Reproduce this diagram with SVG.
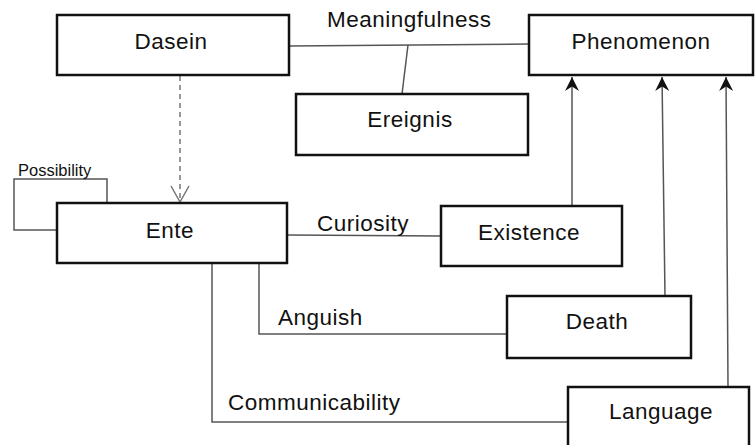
<svg xmlns="http://www.w3.org/2000/svg" width="755" height="445" viewBox="0 0 755 445">
<style>
.box{fill:#fff;stroke:#111;stroke-width:2.5}
.lbl{font-family:"Liberation Sans",Arial,sans-serif;font-size:22.5px;letter-spacing:0.5px;fill:#111;text-anchor:middle}
.elbl{font-family:"Liberation Sans",Arial,sans-serif;font-size:22.5px;letter-spacing:0.5px;fill:#111}
.small{font-family:"Liberation Sans",Arial,sans-serif;font-size:16.5px;fill:#111}
.con{fill:none;stroke:#555;stroke-width:1.5}
.dash{fill:none;stroke:#777;stroke-width:1.5;stroke-dasharray:5 4}
</style>
<defs>
<marker id="barb" markerUnits="userSpaceOnUse" viewBox="0 0 16 16" refX="15" refY="8" markerWidth="16" markerHeight="16" orient="auto">
<path d="M15,8 L1,1 L5.5,8 L1,15 Z" fill="#111"/>
</marker>
<marker id="openv" markerUnits="userSpaceOnUse" viewBox="0 0 20 20" refX="18" refY="10" markerWidth="20" markerHeight="20" orient="auto">
<path d="M2,1 L18,10 L2,19" fill="none" stroke="#777" stroke-width="1.5"/>
</marker>
</defs>
<g id="connectors">
<path class="con" d="M289,46 L529,44"/>
<path class="con" d="M408,45 L402,94"/>
<path class="dash" d="M180,76 L180,202" marker-end="url(#openv)"/>
<path class="con" d="M57,230 L14,230 L14,179 L107,179 L107,203"/>
<path class="con" d="M287,235 L441,236"/>
<path class="con" d="M259,263 L259,334 L507,334"/>
<path class="con" d="M212,263 L212,422 L568,422"/>
<path class="con" d="M572,206 L572,77" marker-end="url(#barb)"/>
<path class="con" d="M665,296 L662,77" marker-end="url(#barb)"/>
<path class="con" d="M728,387 L726,77" marker-end="url(#barb)"/>
<text class="elbl" x="327" y="27">Meaningfulness</text>
<text class="small" x="18" y="176">Possibility</text>
<text class="elbl" x="317" y="231">Curiosity</text>
<text class="elbl" x="278" y="325">Anguish</text>
<text class="elbl" x="228" y="410">Communicability</text>
</g>
<g id="dasein"><rect class="box" x="57" y="15" width="232" height="60"/><text class="lbl" x="171" y="49">Dasein</text></g>
<g id="phenomenon"><rect class="box" x="529" y="15" width="224" height="60"/><text class="lbl" x="641" y="49">Phenomenon</text></g>
<g id="ereignis"><rect class="box" x="296" y="94" width="232" height="61"/><text class="lbl" x="410" y="127">Ereignis</text></g>
<g id="ente"><rect class="box" x="57" y="203" width="230" height="60"/><text class="lbl" x="170" y="238">Ente</text></g>
<g id="existence"><rect class="box" x="441" y="206" width="181" height="60"/><text class="lbl" x="529" y="240">Existence</text></g>
<g id="death"><rect class="box" x="507" y="296" width="184" height="62"/><text class="lbl" x="597" y="329">Death</text></g>
<g id="language"><rect class="box" x="568" y="387" width="181" height="70"/><text class="lbl" x="661" y="419">Language</text></g>
</svg>
